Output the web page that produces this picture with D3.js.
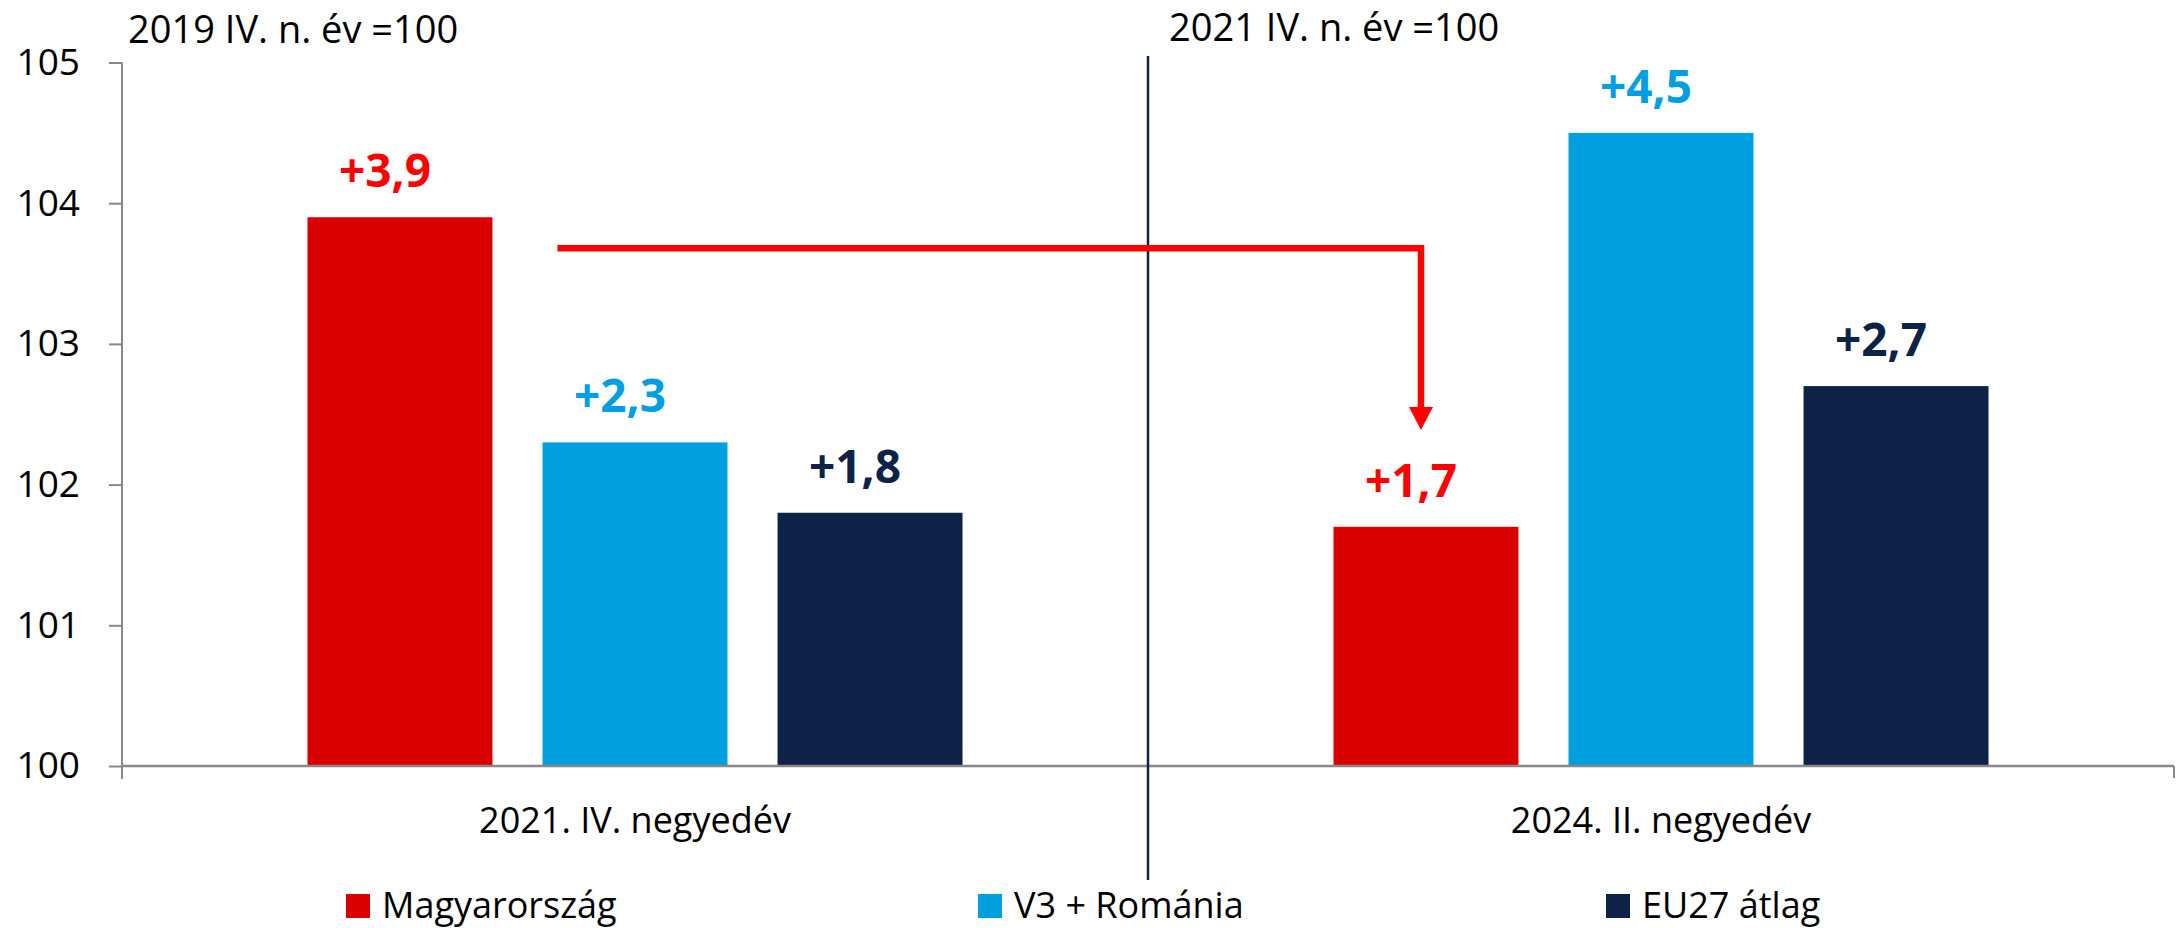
<!DOCTYPE html>
<html>
<head>
<meta charset="utf-8">
<script src="https://cdn.jsdelivr.net/npm/d3@7"></script>
<style>
  html, body { margin: 0; padding: 0; background: #ffffff; }
  svg { display: block; font-family: "Open Sans", "Noto Sans", sans-serif; }
</style>
</head>
<body>
<svg id="chart" width="2181" height="928"></svg>
<script>
// ---- data ----
const categories = ["2021. IV. negyedév", "2024. II. negyedév"];
const seriesNames = ["Magyarország", "V3 + Románia", "EU27 átlag"];
const magyarorszag = [103.9, 101.7];
const v3Romania = [102.3, 104.5];
const eu27 = [101.8, 102.7];
const valueLabels = [["+3,9", "+1,7"], ["+2,3", "+4,5"], ["+1,8", "+2,7"]];
const yTicks = [100, 101, 102, 103, 104, 105];
const baseTitles = ["2019 IV. n. év =100", "2021 IV. n. év =100"];

const seriesValues = [magyarorszag, v3Romania, eu27];
const barColors = ["#db0000", "#009fe0", "#0e2147"];
const labelColors = ["#ff0000", "#009fe3", "#0e2147"];
const axisColor = "#888888";
const navy = "#0e2147";

const svg = d3.select("#chart");

// ---- scales ----
const plotLeft = 122, plotRight = 2174;
const y = d3.scaleLinear().domain([100, 105]).range([766, 62.5]);
const x0 = d3.scaleBand().domain(categories).range([plotLeft, plotRight]).padding(0);
const x1 = d3.scaleBand().domain(seriesNames).range([185.5, x0.bandwidth() - 185.5]).paddingInner(0.213).paddingOuter(0);

// ---- bars ----
const groups = svg.selectAll("g.cat").data(categories).join("g")
  .attr("class", "cat")
  .attr("transform", d => `translate(${x0(d)},0)`);

groups.each(function(cat, ci) {
  const g = d3.select(this);
  seriesNames.forEach((s, si) => {
    const v = seriesValues[si][ci];
    g.append("rect")
      .attr("x", x1(s))
      .attr("y", y(v))
      .attr("width", x1.bandwidth())
      .attr("height", y(100) - y(v))
      .attr("fill", barColors[si]);
    g.append("text")
      .attr("x", x1(s) + x1.bandwidth() / 2 - 15)
      .attr("y", y(v) - 30)
      .attr("text-anchor", "middle")
      .attr("font-size", 46)
      .attr("font-weight", 700)
      .attr("fill", labelColors[si])
      .text(valueLabels[si][ci]);
  });
});

// ---- y axis ----
const yAxis = d3.axisLeft(y).tickValues(yTicks).tickSize(13).tickPadding(29).tickFormat(d3.format("d"));
const yg = svg.append("g").attr("transform", `translate(${plotLeft},0)`).call(yAxis);
yg.select(".domain").attr("stroke", axisColor).attr("stroke-width", 2).attr("d", `M0,${y(105)}V${y(100) + 13}`);
yg.selectAll(".tick line").attr("stroke", axisColor).attr("stroke-width", 2);
yg.selectAll(".tick text").attr("font-size", 37).attr("fill", "#000").attr("font-family", "Open Sans");

// ---- x axis ----
const xAxis = d3.axisBottom(x0).tickSize(0).tickPadding(0);
const xg = svg.append("g").attr("transform", `translate(0,${y(100)})`).call(xAxis);
xg.select(".domain").attr("stroke", axisColor).attr("stroke-width", 2.5).attr("d", `M${plotLeft},0H${plotRight}`);
xg.selectAll(".tick text").attr("font-size", 36).attr("fill", "#000")
  .attr("font-family", "Open Sans").attr("dy", null).attr("y", 67);
// tick marks between categories
const boundaries = categories.map(c => x0(c)).concat([x0(categories[categories.length - 1]) + x0.bandwidth()]);
svg.append("g").selectAll("line").data(boundaries).join("line")
  .attr("x1", d => d).attr("x2", d => d)
  .attr("y1", y(100)).attr("y2", y(100) + 12)
  .attr("stroke", axisColor).attr("stroke-width", 2);

// ---- divider between periods ----
const divX = x0(categories[1]);
svg.append("line")
  .attr("x1", divX).attr("x2", divX)
  .attr("y1", 56).attr("y2", 880)
  .attr("stroke", navy).attr("stroke-width", 2.5);

// ---- base-period titles ----
svg.append("text").attr("x", 128).attr("y", 43).attr("font-size", 38).attr("fill", "#000").text(baseTitles[0]);
svg.append("text").attr("x", divX + 21).attr("y", 41).attr("font-size", 38).attr("fill", "#000").text(baseTitles[1]);

// ---- arrow annotation ----
const arrowY = y(103.68);
const arrowStartX = x0(categories[0]) + x1(seriesNames[0]) + x1.bandwidth() + 65;
const arrowEndX = x0(categories[1]) + x1(seriesNames[0]) + x1.bandwidth() / 2 - 5;
const headTop = 407, headTip = 430;
svg.append("path")
  .attr("d", `M${arrowStartX},${arrowY}H${arrowEndX}V${headTop + 2}`)
  .attr("fill", "none").attr("stroke", "#ff0000").attr("stroke-width", 6.5)
  .attr("stroke-linejoin", "miter");
svg.append("path")
  .attr("d", `M${arrowEndX - 12},${headTop}L${arrowEndX + 12},${headTop}L${arrowEndX},${headTip}Z`)
  .attr("fill", "#ff0000");

// ---- legend ----
const legendX = [346, 978, 1606];
const legend = svg.append("g").selectAll("g").data(seriesNames).join("g")
  .attr("transform", (d, i) => `translate(${legendX[i]},894)`);
legend.append("rect").attr("width", 24).attr("height", 24).attr("fill", (d, i) => barColors[i]);
legend.append("text").attr("x", 36).attr("y", 24).attr("font-size", 36).attr("fill", "#000").text(d => d);
</script>
</body>
</html>
